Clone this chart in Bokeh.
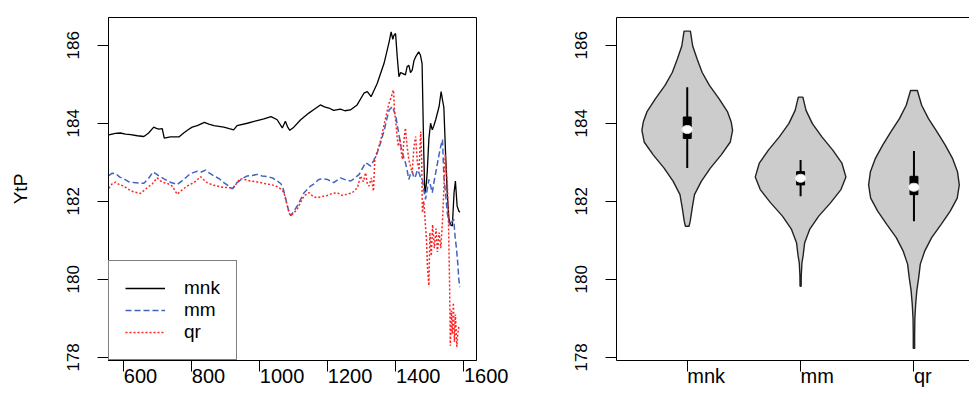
import numpy as np
from bokeh.plotting import figure
from bokeh.layouts import row
from bokeh.models import Range1d, FixedTicker, LinearAxis
from bokeh.embed import file_html
from bokeh.resources import INLINE

# ---------------- data: left panel (time series) ----------------
mnk_x = [556, 575, 590, 605, 620, 640, 659, 673, 688, 696, 703, 713, 719, 737, 762, 776, 790, 801, 816,
         837, 850, 865, 894, 910, 923, 933, 963, 992, 1012, 1033, 1051, 1066, 1075, 1082, 1088, 1100,
         1120, 1144, 1160, 1178, 1190, 1203, 1217, 1237, 1250, 1266, 1286, 1306, 1316, 1327, 1345,
         1365, 1380, 1386, 1391, 1394, 1399, 1404, 1409, 1414, 1419, 1428, 1433, 1438, 1443, 1448,
         1453, 1458, 1467, 1472, 1477, 1482, 1485, 1489, 1492, 1497, 1502, 1507, 1512, 1517, 1527,
         1533, 1537, 1541, 1546, 1551, 1556, 1561, 1566, 1571, 1575, 1580, 1585, 1588]
mnk_y = [183.70, 183.74, 183.75, 183.72, 183.71, 183.68, 183.66, 183.75, 183.90, 183.87, 183.85, 183.86,
         183.62, 183.65, 183.65, 183.75, 183.84, 183.90, 183.94, 184.02, 183.98, 183.94, 183.90, 183.86,
         183.83, 183.94, 184.00, 184.07, 184.11, 184.17, 184.09, 183.88, 184.05, 183.90, 183.82, 183.90,
         184.09, 184.26, 184.36, 184.47, 184.42, 184.39, 184.33, 184.36, 184.32, 184.34, 184.47, 184.77,
         184.81, 184.68, 185.02, 185.53, 186.08, 186.34, 186.15, 186.25, 186.30, 185.70, 185.19, 185.30,
         185.28, 185.24, 185.45, 185.49, 185.30, 185.36, 185.60, 185.70, 185.83, 185.75, 185.53, 183.24,
         182.20, 182.40, 182.73, 183.60, 184.00, 183.83, 183.95, 184.09, 184.43, 184.81, 184.60, 184.41,
         183.24, 182.20, 181.54, 181.40, 181.37, 182.22, 182.52, 181.88, 181.75, 181.72]

mm_x = [556, 566, 576, 588, 600, 615, 629, 645, 659, 672, 686, 695, 703, 717, 737, 757, 776, 796, 806,
        816, 828, 840, 852, 865, 880, 894, 907, 919, 933, 948, 963, 978, 992, 1007, 1022, 1037, 1051,
        1062, 1069, 1075, 1081, 1086, 1091, 1100, 1110, 1120, 1130, 1149, 1160, 1173, 1186, 1198, 1217,
        1237, 1252, 1267, 1280, 1292, 1302, 1311, 1318, 1326, 1335, 1345, 1355, 1366, 1373, 1380, 1390,
        1395, 1400, 1405, 1410, 1415, 1419, 1424, 1428, 1433, 1438, 1443, 1448, 1453, 1458, 1463, 1468,
        1473, 1478, 1482, 1487, 1492, 1497, 1502, 1507, 1512, 1517, 1527, 1532, 1537, 1541, 1546, 1551,
        1556, 1561, 1566, 1570, 1574, 1578, 1582, 1585, 1588]
mm_y = [182.66, 182.72, 182.71, 182.62, 182.58, 182.50, 182.48, 182.47, 182.46, 182.58, 182.75, 182.70,
        182.65, 182.58, 182.49, 182.43, 182.56, 182.71, 182.74, 182.77, 182.75, 182.80, 182.72, 182.65,
        182.58, 182.48, 182.40, 182.32, 182.48, 182.58, 182.65, 182.66, 182.69, 182.65, 182.63, 182.60,
        182.52, 182.45, 182.31, 182.10, 181.88, 181.72, 181.63, 181.75, 181.88, 182.05, 182.22, 182.39,
        182.45, 182.56, 182.58, 182.56, 182.48, 182.60, 182.55, 182.52, 182.60, 182.69, 182.85, 182.99,
        182.95, 182.90, 183.05, 183.24, 183.50, 183.83, 184.10, 184.34, 184.43, 184.30, 184.17, 183.90,
        183.66, 183.40, 183.24, 183.10, 182.99, 182.80, 182.56, 182.70, 182.77, 182.60, 182.65, 182.80,
        182.73, 182.60, 182.56, 182.30, 182.05, 182.30, 182.56, 182.40, 182.22, 182.50, 182.73, 183.20,
        183.41, 183.58, 182.65, 182.20, 181.71, 181.45, 181.37, 181.50, 181.54, 181.10, 180.80, 180.40,
        180.00, 179.80]

qr_x = [556, 566, 576, 588, 600, 615, 629, 649, 669, 684, 698, 708, 717, 730, 742, 750, 757, 770, 786,
        806, 816, 826, 835, 845, 860, 875, 890, 904, 923, 933, 943, 958, 973, 988, 1002, 1017, 1031,
        1045, 1056, 1066, 1071, 1076, 1081, 1086, 1091, 1100, 1110, 1120, 1130, 1137, 1145, 1157, 1169,
        1183, 1198, 1212, 1228, 1242, 1257, 1272, 1287, 1296, 1304, 1311, 1316, 1321, 1328, 1334, 1338,
        1346, 1356, 1365, 1375, 1381, 1387, 1390, 1393, 1396, 1399, 1403, 1407, 1412, 1416, 1419, 1424,
        1428, 1433, 1438, 1443, 1448, 1453, 1458, 1463, 1468, 1473, 1476, 1478, 1482, 1486, 1490, 1493,
        1497, 1500, 1504, 1508, 1513, 1518, 1522, 1527, 1532, 1537, 1541, 1545, 1548, 1551, 1554, 1556,
        1558, 1560, 1563, 1566, 1569, 1572, 1575, 1579, 1582, 1585]
qr_y = [182.33, 182.45, 182.49, 182.42, 182.39, 182.30, 182.24, 182.20, 182.35, 182.45, 182.60, 182.52,
        182.48, 182.45, 182.39, 182.28, 182.18, 182.28, 182.39, 182.48, 182.55, 182.63, 182.55, 182.48,
        182.42, 182.39, 182.36, 182.35, 182.35, 182.48, 182.58, 182.55, 182.52, 182.50, 182.48, 182.45,
        182.43, 182.40, 182.35, 182.28, 182.22, 182.05, 181.88, 181.70, 181.63, 181.70, 181.80, 181.98,
        182.14, 182.18, 182.22, 182.12, 182.09, 182.12, 182.15, 182.20, 182.22, 182.15, 182.18, 182.22,
        182.35, 182.65, 182.50, 182.73, 182.45, 182.39, 182.60, 182.26, 183.07, 183.30, 183.58, 183.95,
        184.34, 184.55, 184.68, 184.80, 184.85, 184.30, 184.09, 183.70, 183.41, 183.60, 183.25, 183.07,
        183.60, 183.88, 183.40, 183.07, 182.90, 182.73, 183.40, 183.66, 183.00, 182.80, 183.79, 183.00,
        181.71, 182.00, 181.50, 181.00, 180.30, 179.84, 181.20, 180.60, 181.40, 180.80, 181.30, 180.70,
        181.20, 180.80, 181.50, 182.30, 183.20, 182.80, 182.50, 181.80, 180.80, 179.80, 178.30, 179.20,
        178.60, 179.40, 178.40, 179.10, 178.27, 178.60, 178.78]

y_ticks = [178, 180, 182, 184, 186]
x_ticks = [600, 800, 1000, 1200, 1400, 1600]

# ---------------- data: right panel (violins) ----------------
groups = ["mnk", "mm", "qr"]
mnk_dens_y = [181.36, 181.49, 181.83, 182.17, 182.51, 182.85, 183.19, 183.52, 183.82, 184.03, 184.29,
              184.63, 184.97, 185.30, 185.64, 185.98, 186.36]
mnk_dens = [0.04, 0.066, 0.11, 0.16, 0.31, 0.51, 0.75, 0.95, 1.0, 0.97, 0.89, 0.70, 0.49, 0.33, 0.22,
            0.12, 0.07]
mm_dens_y = [179.82, 180.10, 180.43, 180.60, 180.94, 181.28, 181.62, 181.96, 182.30, 182.62, 182.98,
             183.31, 183.65, 183.99, 184.33, 184.67]
mm_dens = [0.012, 0.015, 0.03, 0.055, 0.09, 0.20, 0.40, 0.66, 0.89, 1.0, 0.91, 0.71, 0.47, 0.26, 0.12,
           0.05]
qr_dens_y = [178.23, 178.60, 179.00, 179.37, 179.71, 180.05, 180.39, 180.73, 181.07, 181.41, 181.75,
             182.08, 182.42, 182.76, 183.10, 183.44, 183.78, 184.12, 184.46, 184.84]
qr_dens = [0.015, 0.015, 0.02, 0.038, 0.063, 0.105, 0.14, 0.24, 0.39, 0.60, 0.80, 0.955, 1.0, 0.96,
           0.85, 0.69, 0.51, 0.32, 0.17, 0.075]
whisker_lo = [182.85, 182.13, 181.49]
whisker_hi = [184.92, 183.06, 183.29]
q1 = [183.61, 182.42, 182.17]
q3 = [184.16, 182.76, 182.64]
medians = [183.84, 182.59, 182.36]

# ---------------- styling ----------------
FONT = "Liberation Sans"
Y0, Y1 = 177.92, 186.71


def style(p):
    p.grid.grid_line_color = None
    p.background_fill_color = "white"
    p.border_fill_color = "white"
    for ax in p.axis:
        ax.axis_line_color = "black"
        ax.axis_line_width = 1
        ax.major_tick_line_color = "black"
        ax.major_tick_line_width = 1
        ax.major_tick_in = 0
        ax.major_tick_out = 11
        ax.minor_tick_line_color = None
        ax.major_label_text_font = FONT
        ax.major_label_text_color = "black"
    p.yaxis.ticker = FixedTicker(ticks=y_ticks)
    p.yaxis.major_label_orientation = "vertical"
    p.yaxis.major_label_text_font_size = "17px"
    p.yaxis.major_label_standoff = 18
    p.xaxis.major_label_text_font_size = "20px"
    # tiny negative angle -> labels anchored at their left edge on the tick (R style)
    p.xaxis.major_label_orientation = -0.0001
    p.xaxis.major_label_standoff = 4


# ---------------- left panel ----------------
p1 = figure(width=540, height=400, x_range=Range1d(555, 1637), y_range=Range1d(Y0, Y1),
            output_backend="svg", toolbar_location=None,
            min_border_left=108, min_border_right=64, min_border_top=17, min_border_bottom=38)
style(p1)
p1.outline_line_color = "black"
p1.outline_line_width = 1
p1.xaxis.ticker = FixedTicker(ticks=x_ticks)
p1.yaxis.axis_label = "YtP"
p1.yaxis.axis_label_text_font = FONT
p1.yaxis.axis_label_text_font_size = "19px"
p1.yaxis.axis_label_text_font_style = "normal"
p1.yaxis.axis_label_text_color = "black"
p1.yaxis.axis_label_standoff = 34

p1.line(mnk_x, mnk_y, line_color="black", line_width=1.3, legend_label="mnk")
p1.line(mm_x, mm_y, line_color="#3F63C0", line_width=1.5, line_dash="6 3", legend_label="mm")
p1.line(qr_x, qr_y, line_color="#FF2424", line_width=1.5, line_dash="2 2", legend_label="qr")

lg = p1.legend[0]
lg.location = "bottom_left"
lg.margin = 0
lg.padding = 16
lg.spacing = 0
lg.border_line_color = "black"
lg.border_line_width = 1
lg.background_fill_color = "white"
lg.background_fill_alpha = 1
lg.label_text_font = FONT
lg.label_text_font_size = "19px"
lg.label_text_color = "black"
lg.glyph_width = 40
lg.glyph_height = 22
lg.label_height = 22
lg.label_standoff = 19

# ---------------- right panel ----------------
pos = [i + 1 for i in range(len(groups))]
p2 = figure(width=429, height=400, x_range=Range1d(0.376, 3.49), y_range=Range1d(Y0, Y1),
            output_backend="svg", toolbar_location=None,
            min_border_left=76, min_border_right=0, min_border_top=17, min_border_bottom=38)
style(p2)
p2.outline_line_color = None
p2.xaxis.ticker = FixedTicker(ticks=pos)
p2.xaxis.major_label_overrides = {pos[i]: g for i, g in enumerate(groups)}
top_axis = LinearAxis(ticker=FixedTicker(ticks=[]), axis_line_color="black",
                      major_tick_line_color=None, minor_tick_line_color=None,
                      major_label_text_font_size="0px")
p2.add_layout(top_axis, "above")

HALF = 0.4
xs, ys = [], []
for c, dy, d in zip(pos, [mnk_dens_y, mm_dens_y, qr_dens_y], [mnk_dens, mm_dens, qr_dens]):
    dy = np.array(dy)
    d = np.array(d)
    xs.append(list(c - HALF * d) + list((c + HALF * d)[::-1]))
    ys.append(list(dy) + list(dy[::-1]))
p2.patches(xs, ys, fill_color="#CCCCCC", line_color="#222222", line_width=1.4)
p2.segment(x0=pos, y0=whisker_lo, x1=pos, y1=whisker_hi, line_color="black", line_width=2)
p2.vbar(x=pos, bottom=q1, top=q3, width=0.07, fill_color="black", line_color="black")
p2.ellipse(x=pos, y=medians, width=11, height=8, width_units="screen", height_units="screen",
           fill_color="white", line_color="#DDDDDD", line_width=1)

layout = row(p1, p2)
open("out.html", "w").write(file_html(layout, INLINE))
